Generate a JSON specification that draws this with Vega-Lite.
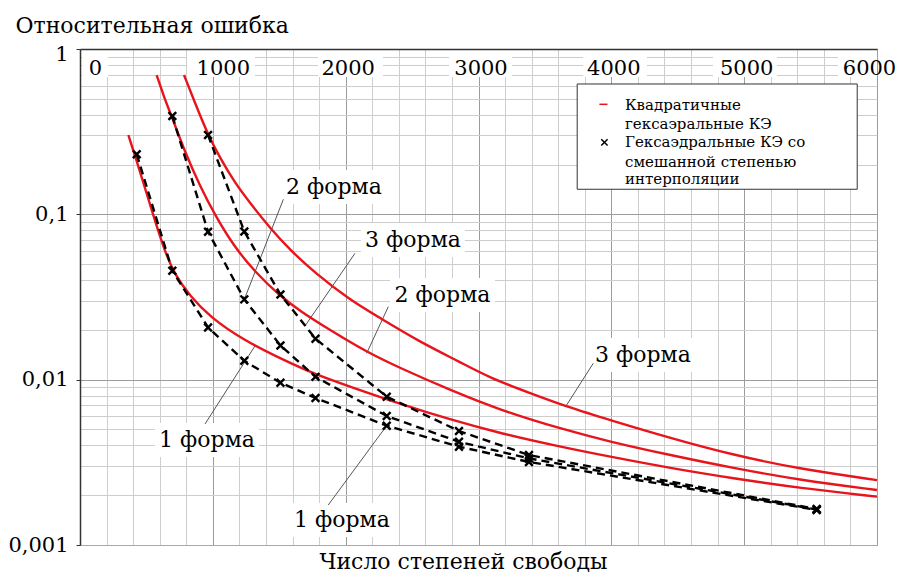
{
  "$schema": "https://vega.github.io/schema/vega-lite/v6.json",
  "width": 797,
  "height": 496,
  "autosize": {"type": "none"},
  "padding": {"left": 80, "top": 49, "right": 22, "bottom": 32},
  "background": "white",
  "config": {
    "view": {"stroke": "#a8a8a8", "strokeWidth": 1},
    "font": "DejaVu Serif"
  },
  "datasets": {
    "boxes": [
      {"x": 15, "x2": 211, "y": 1, "y2": 0.677},
      {"x": 805, "x2": 1317, "y": 1, "y2": 0.677},
      {"x": 1792, "x2": 2281, "y": 1, "y2": 0.677},
      {"x": 2778, "x2": 3252, "y": 1, "y2": 0.677},
      {"x": 3787, "x2": 4268, "y": 1, "y2": 0.677},
      {"x": 4765, "x2": 5247, "y": 1, "y2": 0.677},
      {"x": 5706, "x2": 6000, "y": 1, "y2": 0.677},
      {"x": 1521, "x2": 2304, "y": 0.1854, "y2": 0.1154},
      {"x": 2115, "x2": 2898, "y": 0.0886, "y2": 0.0552},
      {"x": 2334, "x2": 3124, "y": 0.0412, "y2": 0.02566},
      {"x": 3847, "x2": 4630, "y": 0.01786, "y2": 0.01113},
      {"x": 565, "x2": 1348, "y": 0.005467, "y2": 0.003405},
      {"x": 1581, "x2": 2364, "y": 0.001795, "y2": 0.001118}
    ],
    "leaders": [
      {"x": 1531, "y": 0.1233, "x2": 1237, "y2": 0.0306},
      {"x": 2070, "y": 0.0581, "x2": 1694, "y2": 0.02112},
      {"x": 2321, "y": 0.02763, "x2": 2158, "y2": 0.01443},
      {"x": 3864, "y": 0.01256, "x2": 3664, "y2": 0.00703},
      {"x": 941, "y": 0.00539, "x2": 1317, "y2": 0.01598},
      {"x": 1869, "y": 0.001746, "x2": 2309, "y2": 0.00527}
    ],
    "labels": [
      {"x": 1912, "y": 0.1463, "text": "2 форма"},
      {"x": 2507, "y": 0.07, "text": "3 форма"},
      {"x": 2729, "y": 0.0325, "text": "2 форма"},
      {"x": 4238, "y": 0.0141, "text": "3 форма"},
      {"x": 956, "y": 0.004315, "text": "1 форма"},
      {"x": 1972, "y": 0.001416, "text": "1 форма"}
    ],
    "legendbox": [{"x": 3743, "x2": 5851, "y": 0.6143, "y2": 0.1418}],
    "legendtext": [
      {"x": 4103, "y": 0.4585, "text": "Квадратичные"},
      {"x": 4103, "y": 0.3514, "text": "гексаэральные КЭ"},
      {"x": 4103, "y": 0.2737, "text": "Гексаэдральные КЭ со"},
      {"x": 4103, "y": 0.2083, "text": "смешанной степенью"},
      {"x": 4103, "y": 0.1643, "text": "интерполяции"}
    ],
    "legendline": [{"x": 3910, "x2": 3971, "y": 0.4629}],
    "legendmark": [{"x": 3948, "y": 0.2722}],
    "red": [
      {"series": "1", "x": 364, "y": 0.3019},
      {"series": "1", "x": 427, "y": 0.2102},
      {"series": "1", "x": 489, "y": 0.1443},
      {"series": "1", "x": 565, "y": 0.0912},
      {"series": "1", "x": 640, "y": 0.0592},
      {"series": "1", "x": 715, "y": 0.04296},
      {"series": "1", "x": 828, "y": 0.0321},
      {"series": "1", "x": 979, "y": 0.02393},
      {"series": "1", "x": 1229, "y": 0.01738},
      {"series": "1", "x": 1531, "y": 0.01315},
      {"series": "1", "x": 1782, "y": 0.01067},
      {"series": "1", "x": 2033, "y": 0.00907},
      {"series": "1", "x": 2409, "y": 0.00713},
      {"series": "1", "x": 2785, "y": 0.00574},
      {"series": "1", "x": 3162, "y": 0.00474},
      {"series": "1", "x": 3614, "y": 0.00393},
      {"series": "1", "x": 3990, "y": 0.00342},
      {"series": "1", "x": 4442, "y": 0.00292},
      {"series": "1", "x": 4916, "y": 0.00253},
      {"series": "1", "x": 5420, "y": 0.00221},
      {"series": "1", "x": 6000, "y": 0.00196},
      {"series": "2", "x": 577, "y": 0.6961},
      {"series": "2", "x": 632, "y": 0.5125},
      {"series": "2", "x": 695, "y": 0.3825},
      {"series": "2", "x": 790, "y": 0.2382},
      {"series": "2", "x": 903, "y": 0.1484},
      {"series": "2", "x": 1016, "y": 0.0991},
      {"series": "2", "x": 1152, "y": 0.0652},
      {"series": "2", "x": 1317, "y": 0.04479},
      {"series": "2", "x": 1506, "y": 0.03206},
      {"series": "2", "x": 1656, "y": 0.02603},
      {"series": "2", "x": 1882, "y": 0.01997},
      {"series": "2", "x": 2158, "y": 0.0147},
      {"series": "2", "x": 2409, "y": 0.01176},
      {"series": "2", "x": 2785, "y": 0.00866},
      {"series": "2", "x": 3162, "y": 0.00655},
      {"series": "2", "x": 3614, "y": 0.00506},
      {"series": "2", "x": 3990, "y": 0.00421},
      {"series": "2", "x": 4442, "y": 0.0035},
      {"series": "2", "x": 4916, "y": 0.00292},
      {"series": "2", "x": 5420, "y": 0.00247},
      {"series": "2", "x": 6000, "y": 0.00215},
      {"series": "3", "x": 783, "y": 0.6961},
      {"series": "3", "x": 866, "y": 0.4713},
      {"series": "3", "x": 961, "y": 0.3061},
      {"series": "3", "x": 1054, "y": 0.2191},
      {"series": "3", "x": 1167, "y": 0.1546},
      {"series": "3", "x": 1280, "y": 0.1171},
      {"series": "3", "x": 1430, "y": 0.0827},
      {"series": "3", "x": 1581, "y": 0.0609},
      {"series": "3", "x": 1769, "y": 0.0442},
      {"series": "3", "x": 2033, "y": 0.03032},
      {"series": "3", "x": 2259, "y": 0.0236},
      {"series": "3", "x": 2560, "y": 0.01689},
      {"series": "3", "x": 2861, "y": 0.01279},
      {"series": "3", "x": 3087, "y": 0.01023},
      {"series": "3", "x": 3388, "y": 0.0083},
      {"series": "3", "x": 3664, "y": 0.00686},
      {"series": "3", "x": 3990, "y": 0.0057},
      {"series": "3", "x": 4442, "y": 0.00444},
      {"series": "3", "x": 4918, "y": 0.0035},
      {"series": "3", "x": 5420, "y": 0.00288},
      {"series": "3", "x": 6000, "y": 0.00247}
    ],
    "pts": [
      {"series": "1", "x": 427, "y": 0.231},
      {"series": "1", "x": 695, "y": 0.0456},
      {"series": "1", "x": 964, "y": 0.0207},
      {"series": "1", "x": 1237, "y": 0.013},
      {"series": "1", "x": 1509, "y": 0.00958},
      {"series": "1", "x": 1773, "y": 0.00775},
      {"series": "1", "x": 2309, "y": 0.00527},
      {"series": "1", "x": 2853, "y": 0.00393},
      {"series": "1", "x": 3380, "y": 0.00318},
      {"series": "1", "x": 5546, "y": 0.00163},
      {"series": "2", "x": 695, "y": 0.393},
      {"series": "2", "x": 964, "y": 0.0785},
      {"series": "2", "x": 1237, "y": 0.0306},
      {"series": "2", "x": 1509, "y": 0.0161},
      {"series": "2", "x": 1773, "y": 0.0104},
      {"series": "2", "x": 2309, "y": 0.00603},
      {"series": "2", "x": 2853, "y": 0.00421},
      {"series": "2", "x": 3380, "y": 0.00334},
      {"series": "2", "x": 5546, "y": 0.00164},
      {"series": "3", "x": 964, "y": 0.302},
      {"series": "3", "x": 1237, "y": 0.0787},
      {"series": "3", "x": 1509, "y": 0.0327},
      {"series": "3", "x": 1773, "y": 0.0177},
      {"series": "3", "x": 2309, "y": 0.00789},
      {"series": "3", "x": 2853, "y": 0.00489},
      {"series": "3", "x": 3380, "y": 0.0035},
      {"series": "3", "x": 5546, "y": 0.00165}
    ]
  },
  "layer": [
    {
      "data": {"name": "boxes"},
      "mark": {"type": "rect", "fill": "white"},
      "encoding": {
        "x": {
          "field": "x", "type": "quantitative",
          "scale": {"domain": [0, 6000], "nice": false, "zero": false},
          "axis": {
            "orient": "bottom",
            "values": [0, 200, 400, 600, 800, 1000, 1200, 1400, 1600, 1800, 2000, 2200, 2400, 2600, 2800, 3000, 3200, 3400, 3600, 3800, 4000, 4200, 4400, 4600, 4800, 5000, 5200, 5400, 5600, 5800, 6000],
            "grid": true,
            "gridColor": {"condition": {"test": "datum.value % 1000 == 0", "value": "#9c9c9c"}, "value": "#cdcdcd"},
            "gridWidth": 1,
            "labels": false, "ticks": false,
            "domain": true, "domainColor": "#a8a8a8",
            "title": "Число степеней свободы",
            "titleFont": "DejaVu Serif", "titleFontSize": 22, "titleFontWeight": "normal", "titleColor": "#000000",
            "titlePadding": 6, "titleX": 383,
            "zindex": 0
          }
        },
        "x2": {"field": "x2"},
        "y": {
          "field": "y", "type": "quantitative",
          "scale": {"type": "log", "domain": [0.001, 1], "nice": false},
          "axis": {
            "orient": "left",
            "values": [0.001, 0.002, 0.003, 0.004, 0.005, 0.006, 0.007, 0.008, 0.009, 0.01, 0.02, 0.03, 0.04, 0.05, 0.06, 0.07, 0.08, 0.09, 0.1, 0.2, 0.3, 0.4, 0.5, 0.6, 0.7, 0.8, 0.9, 1],
            "grid": true,
            "gridColor": {"condition": {"test": "datum.value == 1 || datum.value == 0.1 || datum.value == 0.01 || datum.value == 0.001", "value": "#9c9c9c"}, "value": "#cdcdcd"},
            "labelExpr": "datum.value == 1 ? '1' : datum.value == 0.1 ? '0,1' : datum.value == 0.01 ? '0,01' : datum.value == 0.001 ? '0,001' : ''",
            "labelOverlap": false,
            "labelFont": "DejaVu Serif", "labelFontSize": 21, "labelColor": "#000000", "labelPadding": 8,
            "labelOffset": {"condition": {"test": "datum.value == 1", "value": 5}, "value": 0},
            "ticks": true, "tickSize": 4, "tickColor": "#333333",
            "tickOpacity": {"condition": {"test": "datum.value == 1 || datum.value == 0.1 || datum.value == 0.01 || datum.value == 0.001", "value": 1}, "value": 0},
            "domainColor": "#333333", "domainWidth": 1.5,
            "title": "Относительная ошибка",
            "titleAngle": 0, "titleAlign": "left", "titleBaseline": "middle",
            "titleX": -65, "titleY": -24,
            "titleFont": "DejaVu Serif", "titleFontSize": 22, "titleFontWeight": "normal", "titleColor": "#000000"
          }
        },
        "y2": {"field": "y2"}
      }
    },
    {
      "data": {"name": "leaders"},
      "mark": {"type": "rule", "color": "#555555", "strokeWidth": 1},
      "encoding": {
        "x": {"field": "x", "type": "quantitative", "axis": null},
        "x2": {"field": "x2"},
        "y": {"field": "y", "type": "quantitative"},
        "y2": {"field": "y2"}
      }
    },
    {
      "data": {"name": "red"},
      "mark": {"type": "line", "color": "#e8141c", "strokeWidth": 2.4, "interpolate": "basis"},
      "encoding": {
        "x": {"field": "x", "type": "quantitative", "axis": null},
        "y": {"field": "y", "type": "quantitative"},
        "detail": {"field": "series"}
      }
    },
    {
      "data": {"name": "pts"},
      "mark": {"type": "line", "color": "#000000", "strokeWidth": 2.4, "strokeDash": [8, 5]},
      "encoding": {
        "x": {"field": "x", "type": "quantitative", "axis": null},
        "y": {"field": "y", "type": "quantitative"},
        "detail": {"field": "series"}
      }
    },
    {
      "data": {"name": "pts"},
      "mark": {"type": "point", "shape": "M-1,-1L1,1M-1,1L1,-1", "filled": false, "color": "#000000", "strokeWidth": 2.4, "size": 60, "opacity": 1},
      "encoding": {
        "x": {"field": "x", "type": "quantitative", "axis": null},
        "y": {"field": "y", "type": "quantitative"}
      }
    },
    {
      "data": {"name": "legendbox"},
      "mark": {"type": "rect", "fill": "white", "stroke": "#333333", "strokeWidth": 1},
      "encoding": {
        "x": {"field": "x", "type": "quantitative", "axis": null},
        "x2": {"field": "x2"},
        "y": {"field": "y", "type": "quantitative"},
        "y2": {"field": "y2"}
      }
    },
    {
      "data": {"name": "legendline"},
      "mark": {"type": "rule", "color": "#e8141c", "strokeWidth": 1.5},
      "encoding": {
        "x": {"field": "x", "type": "quantitative", "axis": null},
        "x2": {"field": "x2"},
        "y": {"field": "y", "type": "quantitative"}
      }
    },
    {
      "data": {"name": "legendmark"},
      "mark": {"type": "point", "shape": "M-1,-1L1,1M-1,1L1,-1", "filled": false, "color": "#000000", "strokeWidth": 1.5, "size": 40, "opacity": 1},
      "encoding": {
        "x": {"field": "x", "type": "quantitative", "axis": null},
        "y": {"field": "y", "type": "quantitative"}
      }
    },
    {
      "data": {"name": "legendtext"},
      "mark": {"type": "text", "font": "DejaVu Serif", "fontSize": 15, "color": "#000000", "align": "left", "baseline": "middle"},
      "encoding": {
        "x": {"field": "x", "type": "quantitative", "axis": null},
        "y": {"field": "y", "type": "quantitative"},
        "text": {"field": "text"}
      }
    },
    {
      "data": {"name": "labels"},
      "mark": {"type": "text", "font": "DejaVu Serif", "fontSize": 22, "color": "#000000", "align": "center", "baseline": "middle"},
      "encoding": {
        "x": {
          "field": "x", "type": "quantitative",
          "axis": {
            "orient": "top",
            "values": [0, 1000, 2000, 3000, 4000, 5000, 6000],
            "format": "d",
            "grid": false, "ticks": false, "tickSize": 0,
            "labelPadding": -19, "labelBaseline": "middle", "labelAlign": "center", "labelFlush": false,
            "labelOffset": {"condition": [{"test": "datum.value == 0", "value": 15}, {"test": "datum.value == 1000", "value": 10}, {"test": "datum.value == 6000", "value": -8}], "value": 2},
            "labelOverlap": false, "labelBound": false,
            "labelFont": "DejaVu Serif", "labelFontSize": 21, "labelColor": "#000000",
            "domain": true, "domainColor": "#333333", "domainWidth": 1.5,
            "title": null, "zindex": 1
          }
        },
        "y": {"field": "y", "type": "quantitative"},
        "text": {"field": "text"}
      }
    }
  ]
}
